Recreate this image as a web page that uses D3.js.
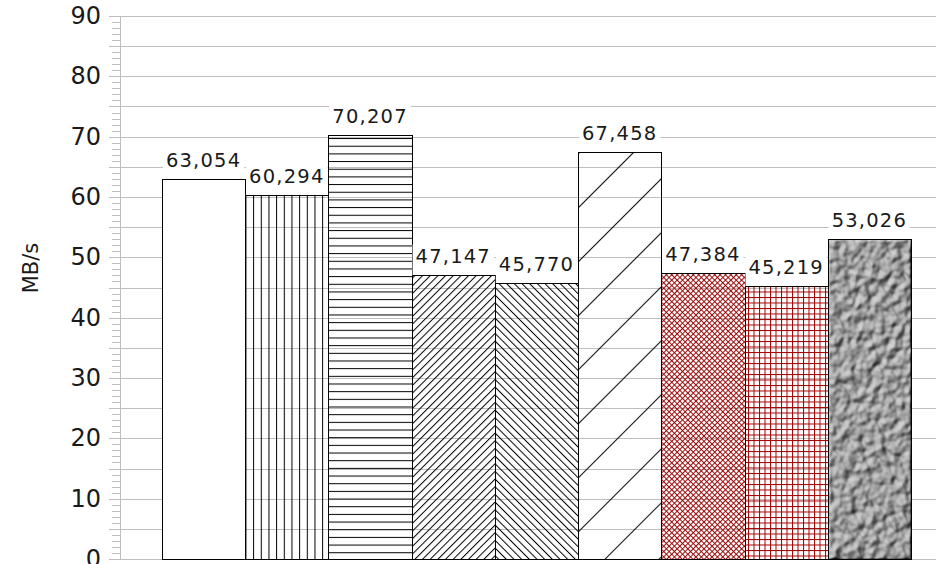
<!DOCTYPE html>
<html>
<head>
<meta charset="utf-8">
<script src="https://cdn.jsdelivr.net/npm/d3@7"></script>
<style>
  body { margin: 0; background: #fff; }
  text { font-family: "DejaVu Sans", sans-serif; fill: #1a1a1a; }
</style>
</head>
<body>
<svg id="chart" width="936" height="564"></svg>
<script>
// chart data
const seriesNames = ["s1", "s2", "s3", "s4", "s5", "s6", "s7", "s8", "s9"];
const values = [63.054, 60.294, 70.207, 47.147, 45.770, 67.458, 47.384, 45.219, 53.026];
const yTickLabels = [0, 10, 20, 30, 40, 50, 60, 70, 80, 90];
const fills = ["#fff", "url(#vert)", "url(#horiz)", "url(#fwd)", "url(#back)",
               "url(#wide)", "url(#redx)", "url(#redgrid)", "url(#tex)"];

const svg = d3.select("#chart");

const x = d3.scaleBand().domain(seriesNames).range([162, 911]).padding(0);
const y = d3.scaleLinear().domain([0, 90]).range([559, 16]);

// patterns
const defs = svg.append("defs");

function linePattern(id, period, angle, color, cross, offset) {
  const o = offset || 0.5;
  const p = defs.append("pattern")
    .attr("id", id)
    .attr("patternUnits", "userSpaceOnUse")
    .attr("width", period).attr("height", period)
    .attr("patternTransform", `rotate(${angle})`);
  p.append("line")
    .attr("x1", o).attr("y1", 0).attr("x2", o).attr("y2", period)
    .attr("stroke", color).attr("stroke-width", 1);
  if (cross) {
    p.append("line")
      .attr("x1", 0).attr("y1", 0.5).attr("x2", period).attr("y2", 0.5)
      .attr("stroke", color).attr("stroke-width", 1);
  }
}
linePattern("vert", 7.67, 0, "#000");
linePattern("horiz", 7.67, 90, "#000");
linePattern("fwd", 5.42, 45, "#000");
linePattern("back", 5.42, -45, "#000");
linePattern("wide", 38.2, 45, "#000", false, 21);
linePattern("redx", 3.8, 45, "#9a0a0a", true);
linePattern("redgrid", 5.5, 0, "#a00000", true);

// embossed gray texture for the last bar
const f = defs.append("filter").attr("id", "texf")
  .attr("color-interpolation-filters", "sRGB")
  .attr("x", 0).attr("y", 0).attr("width", 1).attr("height", 1);
f.append("feTurbulence")
  .attr("type", "fractalNoise").attr("baseFrequency", "0.13 0.11")
  .attr("numOctaves", 2).attr("seed", 7).attr("result", "n");
f.append("feColorMatrix").attr("in", "n").attr("type", "matrix")
  .attr("values", "0 0 0 0 0  0 0 0 0 0  0 0 0 0 0  1 0 0 0 0").attr("result", "a0");
f.append("feGaussianBlur").attr("in", "a0").attr("stdDeviation", 0.9).attr("result", "a");
const light = f.append("feDiffuseLighting").attr("in", "a")
  .attr("surfaceScale", 4).attr("diffuseConstant", 1)
  .attr("lighting-color", "#fff").attr("result", "l");
light.append("feDistantLight").attr("azimuth", 225).attr("elevation", 50);
const ct = f.append("feComponentTransfer").attr("in", "l");
["R", "G", "B"].forEach(c => ct.append("feFunc" + c)
  .attr("type", "linear").attr("slope", 0.82).attr("intercept", 0.0));

// grid lines every 5
const grid = svg.append("g");
grid.selectAll("line")
  .data(d3.range(0, 91, 5))
  .enter().append("line")
  .attr("x1", 109).attr("x2", 936)
  .attr("y1", d => Math.round(y(d)) + 0.5)
  .attr("y2", d => Math.round(y(d)) + 0.5)
  .attr("stroke", "#bdbdbd").attr("stroke-width", 1);

// minor ticks
svg.append("g").selectAll("line")
  .data(d3.range(0, 91, 1).filter(d => d % 5 !== 0))
  .enter().append("line")
  .attr("x1", 112).attr("x2", 120)
  .attr("y1", d => Math.round(y(d)) + 0.5)
  .attr("y2", d => Math.round(y(d)) + 0.5)
  .attr("stroke", "#bdbdbd");

// axis line
svg.append("line")
  .attr("x1", 120.5).attr("x2", 120.5)
  .attr("y1", y(90)).attr("y2", y(0) + 1)
  .attr("stroke", "#bdbdbd");

// tick labels
svg.append("g").selectAll("text")
  .data(yTickLabels)
  .enter().append("text")
  .attr("x", 101)
  .attr("y", d => y(d) + 1)
  .attr("text-anchor", "end")
  .attr("dominant-baseline", "middle")
  .style("font-size", "24px")
  .text(d => d);

// axis title
svg.append("text")
  .attr("transform", "translate(38,268) rotate(-90)")
  .attr("text-anchor", "middle")
  .style("font-size", "21px")
  .text("MB/s");

// bars
const data = seriesNames.map((s, i) => ({s, v: values[i], fill: fills[i]}));

const bars = svg.append("g").selectAll("g")
  .data(data)
  .enter().append("g");

bars.filter(d => d.fill === "url(#tex)")
  .append("rect")
  .attr("x", d => x(d.s) + 0.5)
  .attr("y", d => y(d.v) + 0.5)
  .attr("width", x.bandwidth())
  .attr("height", d => y(0) - y(d.v))
  .attr("fill", "#999")
  .attr("filter", "url(#texf)");

bars.append("rect")
  .attr("x", d => Math.round(x(d.s)) + 0.5)
  .attr("y", d => Math.round(y(d.v)) + 0.5)
  .attr("width", d => Math.round(x(d.s) + x.bandwidth()) - Math.round(x(d.s)))
  .attr("height", d => Math.round(y(0)) - Math.round(y(d.v)))
  .attr("fill", d => d.fill === "url(#tex)" ? "none" : d.fill)
  .attr("stroke", "#000")
  .attr("stroke-width", 1);

// value labels with white boxes
const fmt = v => v.toFixed(3).replace(".", ",");
const labels = svg.append("g");
data.forEach(d => {
  const g = labels.append("g");
  const box = g.append("rect").attr("fill", "#fff");
  const t = g.append("text")
    .attr("x", x(d.s) + x.bandwidth() / 2)
    .attr("y", y(d.v) - 12)
    .attr("text-anchor", "middle")
    .style("font-size", "19.5px")
    .style("letter-spacing", "1.2px")
    .text(fmt(d.v));
  const bb = t.node().getBBox();
  box.attr("x", bb.x - 3).attr("y", bb.y)
    .attr("width", bb.width + 6)
    .attr("height", Math.round(y(d.v)) - bb.y);
});
</script>
</body>
</html>
